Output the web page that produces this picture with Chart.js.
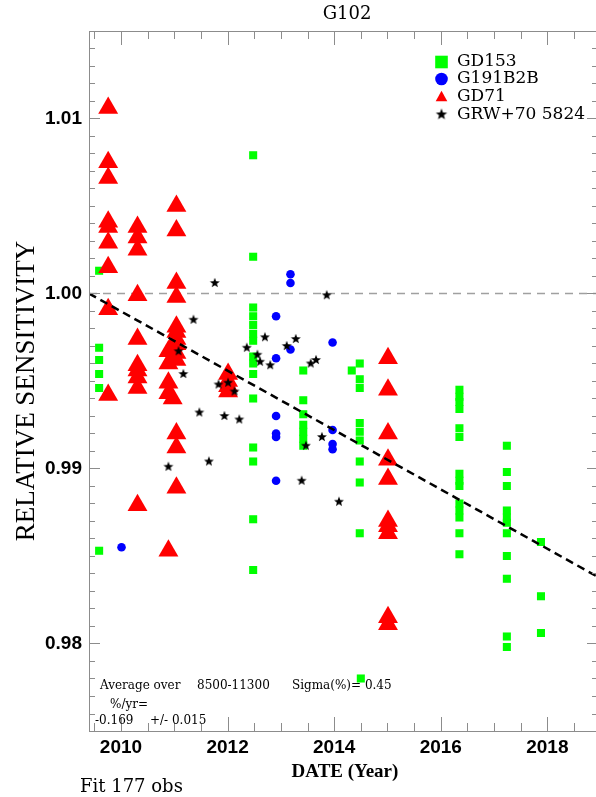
<!DOCTYPE html>
<html>
<head>
<meta charset="utf-8">
<script src="https://cdn.jsdelivr.net/npm/chart.js@4/dist/chart.umd.min.js"></script>
<style>
html,body{margin:0;padding:0;background:#fff;overflow:hidden;}
canvas{display:block;}
</style>
</head>
<body>
<canvas id="c" width="600" height="797"></canvas>
<script>
// ---------------- DATA ----------------
const chartTitle = 'G102';
const xTickLabels = [2010, 2012, 2014, 2016, 2018];
const yTickLabels = [0.98, 0.99, 1.00, 1.01];
const xRange = [2009.4, 2018.95];
const yRange = [0.975, 1.015];

// GD153 (green squares)
const gd153Years = [
  2009.59, 2009.59, 2009.59, 2009.59, 2009.59, 2009.59,
  2012.48, 2012.48, 2012.48, 2012.48, 2012.48, 2012.48, 2012.48, 2012.48, 2012.48, 2012.48, 2012.48, 2012.48, 2012.48, 2012.48, 2012.48,
  2013.42, 2013.42, 2013.42, 2013.42, 2013.42, 2013.42, 2013.42,
  2014.33,
  2014.48, 2014.48, 2014.48, 2014.48, 2014.48, 2014.48, 2014.48, 2014.48, 2014.48, 2014.50,
  2016.35, 2016.35, 2016.35, 2016.35, 2016.35, 2016.35, 2016.35, 2016.35, 2016.35, 2016.35, 2016.35, 2016.35, 2016.35, 2016.35,
  2017.24, 2017.24, 2017.24, 2017.24, 2017.24, 2017.24, 2017.24, 2017.24, 2017.24, 2017.24, 2017.24,
  2017.88, 2017.88, 2017.88
];
const gd153Values = [
  1.0013, 0.9969, 0.9962, 0.9954, 0.9946, 0.9853,
  1.0079, 1.0021, 0.9992, 0.9987, 0.9982, 0.9977, 0.9973, 0.9964, 0.9960, 0.9954, 0.9940, 0.9912, 0.9904, 0.9871, 0.9842,
  0.9956, 0.9939, 0.9931, 0.9925, 0.9921, 0.9917, 0.9913,
  0.9956,
  0.9960, 0.9951, 0.9946, 0.9926, 0.9921, 0.9916, 0.9904, 0.9892, 0.9863, 0.9780,
  0.9945, 0.9941, 0.9938, 0.9934, 0.9923, 0.9918, 0.9897, 0.9893, 0.9890, 0.9880, 0.9876, 0.9872, 0.9863, 0.9851,
  0.9913, 0.9898, 0.9890, 0.9876, 0.9872, 0.9869, 0.9863, 0.9850, 0.9837, 0.9804, 0.9798,
  0.9858, 0.9827, 0.9806
];

// G191B2B (blue circles)
const g191Years = [
  2010.01,
  2012.91, 2012.91, 2012.91, 2012.91, 2012.91, 2012.91,
  2013.18, 2013.18, 2013.18,
  2013.97, 2013.97, 2013.97, 2013.97
];
const g191Values = [
  0.9855,
  0.9987, 0.9963, 0.9930, 0.9920, 0.9918, 0.9893,
  1.0011, 1.0006, 0.9968,
  0.9972, 0.9922, 0.9914, 0.9911
];

// GD71 (red triangles)
const gd71Years = [
  2009.76, 2009.76, 2009.76, 2009.76, 2009.76, 2009.76, 2009.76, 2009.76, 2009.76,
  2010.31, 2010.31, 2010.31, 2010.31, 2010.31, 2010.31, 2010.31, 2010.31, 2010.31, 2010.31,
  2010.89, 2010.89, 2010.89, 2010.89, 2010.89,
  2011.04, 2011.04, 2011.04, 2011.04, 2011.04, 2011.04, 2011.04, 2011.04, 2011.04, 2011.04, 2010.97, 2011.04, 2011.04, 2011.04,
  2012.01, 2012.01, 2012.01, 2012.01,
  2015.01, 2015.01, 2015.01, 2015.01, 2015.01, 2015.01, 2015.01, 2015.01, 2015.01, 2015.01
];
const gd71Values = [
  1.0106, 1.0075, 1.0066, 1.0041, 1.0038, 1.0029, 1.0015, 0.9991, 0.9942,
  1.0038, 1.0032, 1.0025, 0.9999, 0.9974, 0.9959, 0.9956, 0.9952, 0.9946, 0.9879,
  0.9967, 0.9960, 0.9949, 0.9943, 0.9853,
  1.0050, 1.0036, 1.0006, 0.9998, 0.9981, 0.9978, 0.9974, 0.9971, 0.9966, 0.9962, 0.9940, 0.9920, 0.9912, 0.9889,
  0.9954, 0.9950, 0.9947, 0.9944,
  0.9963, 0.9945, 0.9920, 0.9905, 0.9894, 0.9870, 0.9867, 0.9863, 0.9815, 0.9811
];

// GRW+70 5824 (black stars)
const grwYears = [
  2010.89, 2011.08, 2011.17, 2011.36, 2011.47, 2011.65, 2011.76, 2011.83, 2011.94, 2012.01,
  2012.13, 2012.22, 2012.36, 2012.56, 2012.61, 2012.70, 2012.80, 2013.11, 2013.28, 2013.39,
  2013.47, 2013.56, 2013.66, 2013.77, 2013.86, 2014.09
];
const grwValues = [
  0.9901, 0.9967, 0.9954, 0.9985, 0.9932, 0.9904, 1.0006, 0.9948, 0.9930, 0.9949,
  0.9944, 0.9928, 0.9969, 0.9965, 0.9961, 0.9975, 0.9959, 0.9970, 0.9974, 0.9893,
  0.9913, 0.9960, 0.9962, 0.9918, 0.9999, 0.9881
];

// fit line and reference level
const fitYears = [2009.4, 2018.95];
const fitValues = [1.0000, 0.9838];
const refYears = [2009.4, 2018.95];
const refValues = [1.0, 1.0];

const seriesNames = ['GD153', 'G191B2B', 'GD71', 'GRW+70 5824'];
const noteLines = ['Average over', '8500-11300', 'Sigma(%)= 0.45', '%/yr=', '-0.169', '+/- 0.015'];
const footText = 'Fit 177 obs';
const xTitle = 'DATE (Year)';
const yTitle = 'RELATIVE SENSITIVITY';

// ---------------- DRAWING ----------------
function pts(xs, ys) { return xs.map((x, i) => ({x: x, y: ys[i]})); }

function makeStar(size, outer, inner) {
  const c = document.createElement('canvas');
  c.width = size; c.height = size;
  const g = c.getContext('2d');
  g.fillStyle = '#000';
  g.beginPath();
  for (let i = 0; i < 10; i++) {
    const r = (i % 2) ? inner : outer;
    const a = -Math.PI / 2 + i * Math.PI / 5;
    const px = size / 2 + r * Math.cos(a), py = size / 2 + r * Math.sin(a);
    if (i) g.lineTo(px, py); else g.moveTo(px, py);
  }
  g.closePath();
  g.fill();
  return c;
}
const starPlot = makeStar(12, 5.2, 2.2);
const starLegend = makeStar(14, 6, 2.5);

const GREEN = '#00ff00', BLUE = '#0000ff', RED = '#ff0000';
const SERIF = "'DejaVu Serif', serif";
const SANS = "'Liberation Sans', Arial, sans-serif";

const framePlugin = {
  id: 'frame',
  afterDatasetsDraw(chart) {
    const ctx = chart.ctx, a = chart.chartArea;
    const xs = chart.scales.x, ys = chart.scales.y;
    ctx.save();
    ctx.strokeStyle = '#8c8c8c';
    ctx.lineWidth = 1;
    ctx.beginPath();
    ctx.rect(Math.round(a.left) + 0.5, Math.round(a.top) + 0.5, Math.round(a.right - a.left), Math.round(a.bottom - a.top));
    ctx.stroke();
    ctx.beginPath();
    // x ticks every half year, major every 2 years
    for (let k = Math.ceil(xs.min * 2); k <= Math.floor(xs.max * 2); k++) {
      const v = k / 2;
      const px = Math.round(xs.getPixelForValue(v)) + 0.5;
      const len = xTickLabels.includes(v) ? 14 : 8;
      ctx.moveTo(px, a.bottom); ctx.lineTo(px, a.bottom - len);
      ctx.moveTo(px, a.top); ctx.lineTo(px, a.top + len);
    }
    // y ticks every 0.001, major every 0.01
    for (let k = Math.ceil(ys.min * 1000 - 1e-6); k <= Math.floor(ys.max * 1000 + 1e-6); k++) {
      const py = Math.round(ys.getPixelForValue(k / 1000)) + 0.5;
      const len = (k % 10 === 0) ? 11 : 6;
      ctx.moveTo(a.left, py); ctx.lineTo(a.left + len, py);
      ctx.moveTo(a.right, py); ctx.lineTo(a.right - len, py);
    }
    ctx.stroke();
    ctx.restore();
  },
  afterDraw(chart) {
    const ctx = chart.ctx;
    ctx.save();
    ctx.fillStyle = '#000';
    ctx.textBaseline = 'middle';
    // title
    ctx.font = "18px " + SERIF;
    ctx.textAlign = 'center';
    ctx.fillText(chartTitle, 347, 14);
    // x title
    ctx.font = "bold 19px 'Liberation Serif', serif";
    ctx.fillText(xTitle, 345, 772);
    // y title
    ctx.save();
    ctx.translate(27, 391);
    ctx.rotate(-Math.PI / 2);
    ctx.font = "27px 'Liberation Serif', serif";
    ctx.fillText(yTitle, 0, 0);
    ctx.restore();
    // footer
    ctx.textAlign = 'left';
    ctx.font = "18px " + SERIF;
    ctx.fillText(footText, 80, 787);
    // fit notes
    ctx.font = "12px " + SERIF;
    ctx.fillText(noteLines[0], 100, 686);
    ctx.fillText(noteLines[1], 197, 686);
    ctx.fillText(noteLines[2], 292, 686);
    ctx.fillText(noteLines[3], 110, 705);
    ctx.fillText(noteLines[4], 95, 721);
    ctx.fillText(noteLines[5], 150, 721);
    // legend
    const lx = 441.5, rows = [62, 79, 96.7, 114.5];
    ctx.fillStyle = GREEN;
    ctx.fillRect(lx - 6.3, rows[0] - 6.3, 12.6, 12.6);
    ctx.fillStyle = BLUE;
    ctx.beginPath(); ctx.arc(lx, rows[1], 6.3, 0, Math.PI * 2); ctx.fill();
    ctx.fillStyle = RED;
    ctx.beginPath();
    ctx.moveTo(lx, rows[2] - 6); ctx.lineTo(lx + 5.8, rows[2] + 4.5); ctx.lineTo(lx - 5.8, rows[2] + 4.5);
    ctx.closePath(); ctx.fill();
    ctx.drawImage(starLegend, lx - 7, rows[3] - 7);
    ctx.fillStyle = '#000';
    ctx.font = "17px " + SERIF;
    seriesNames.forEach((n, i) => ctx.fillText(n, 457, rows[i]));
    ctx.restore();
  }
};

new Chart(document.getElementById('c'), {
  type: 'scatter',
  data: {
    datasets: [
      { label: 'fit', data: pts(fitYears, fitValues), showLine: true, borderColor: '#000', borderWidth: 2.5,
        borderDash: [8, 5], pointRadius: 0, order: 0 },
      { label: seriesNames[3], data: pts(grwYears, grwValues), pointStyle: starPlot, pointRadius: 5,
        backgroundColor: '#000', borderWidth: 0, order: 1 },
      { label: seriesNames[2], data: pts(gd71Years, gd71Values), pointStyle: 'triangle', pointRadius: 11.5,
        backgroundColor: RED, borderColor: RED, borderWidth: 0, order: 2 },
      { label: seriesNames[1], data: pts(g191Years, g191Values), pointStyle: 'circle', pointRadius: 4.3,
        backgroundColor: BLUE, borderColor: BLUE, borderWidth: 0, order: 3 },
      { label: seriesNames[0], data: pts(gd153Years, gd153Values), pointStyle: 'rect', pointRadius: 5.7,
        backgroundColor: GREEN, borderColor: GREEN, borderWidth: 0, order: 4 },
      { label: 'ref', data: pts(refYears, refValues), showLine: true, borderColor: '#a0a0a0', borderWidth: 1.5,
        borderDash: [8, 6], pointRadius: 0, order: 5 }
    ]
  },
  options: {
    responsive: false,
    animation: false,
    events: [],
    layout: { autoPadding: false, padding: { top: 31, right: 2, bottom: 0, left: 0 } },
    plugins: { legend: { display: false }, title: { display: false }, tooltip: { enabled: false } },
    scales: {
      x: {
        type: 'linear', min: xRange[0], max: xRange[1],
        grid: { display: false, drawTicks: false }, border: { display: false },
        afterBuildTicks: (ax) => { ax.ticks = xTickLabels.map(v => ({ value: v })); },
        afterFit: (ax) => { ax.height = 66; ax.paddingLeft = 0; ax.paddingRight = 0; },
        ticks: { autoSkip: false, maxRotation: 0, padding: 5, color: '#000',
          font: { family: SANS, size: 19, weight: 'bold' }, callback: (v) => String(v) }
      },
      y: {
        type: 'linear', min: yRange[0], max: yRange[1],
        grid: { display: false, drawTicks: false }, border: { display: false },
        afterBuildTicks: (ax) => { ax.ticks = yTickLabels.map(v => ({ value: v })); },
        afterFit: (ax) => { ax.width = 89; ax.paddingTop = 0; ax.paddingBottom = 0; },
        ticks: { autoSkip: false, padding: 7, color: '#000',
          font: { family: SANS, size: 19, weight: 'bold' }, callback: (v) => Number(v).toFixed(2) }
      }
    }
  },
  plugins: [framePlugin]
});
</script>
</body>
</html>
